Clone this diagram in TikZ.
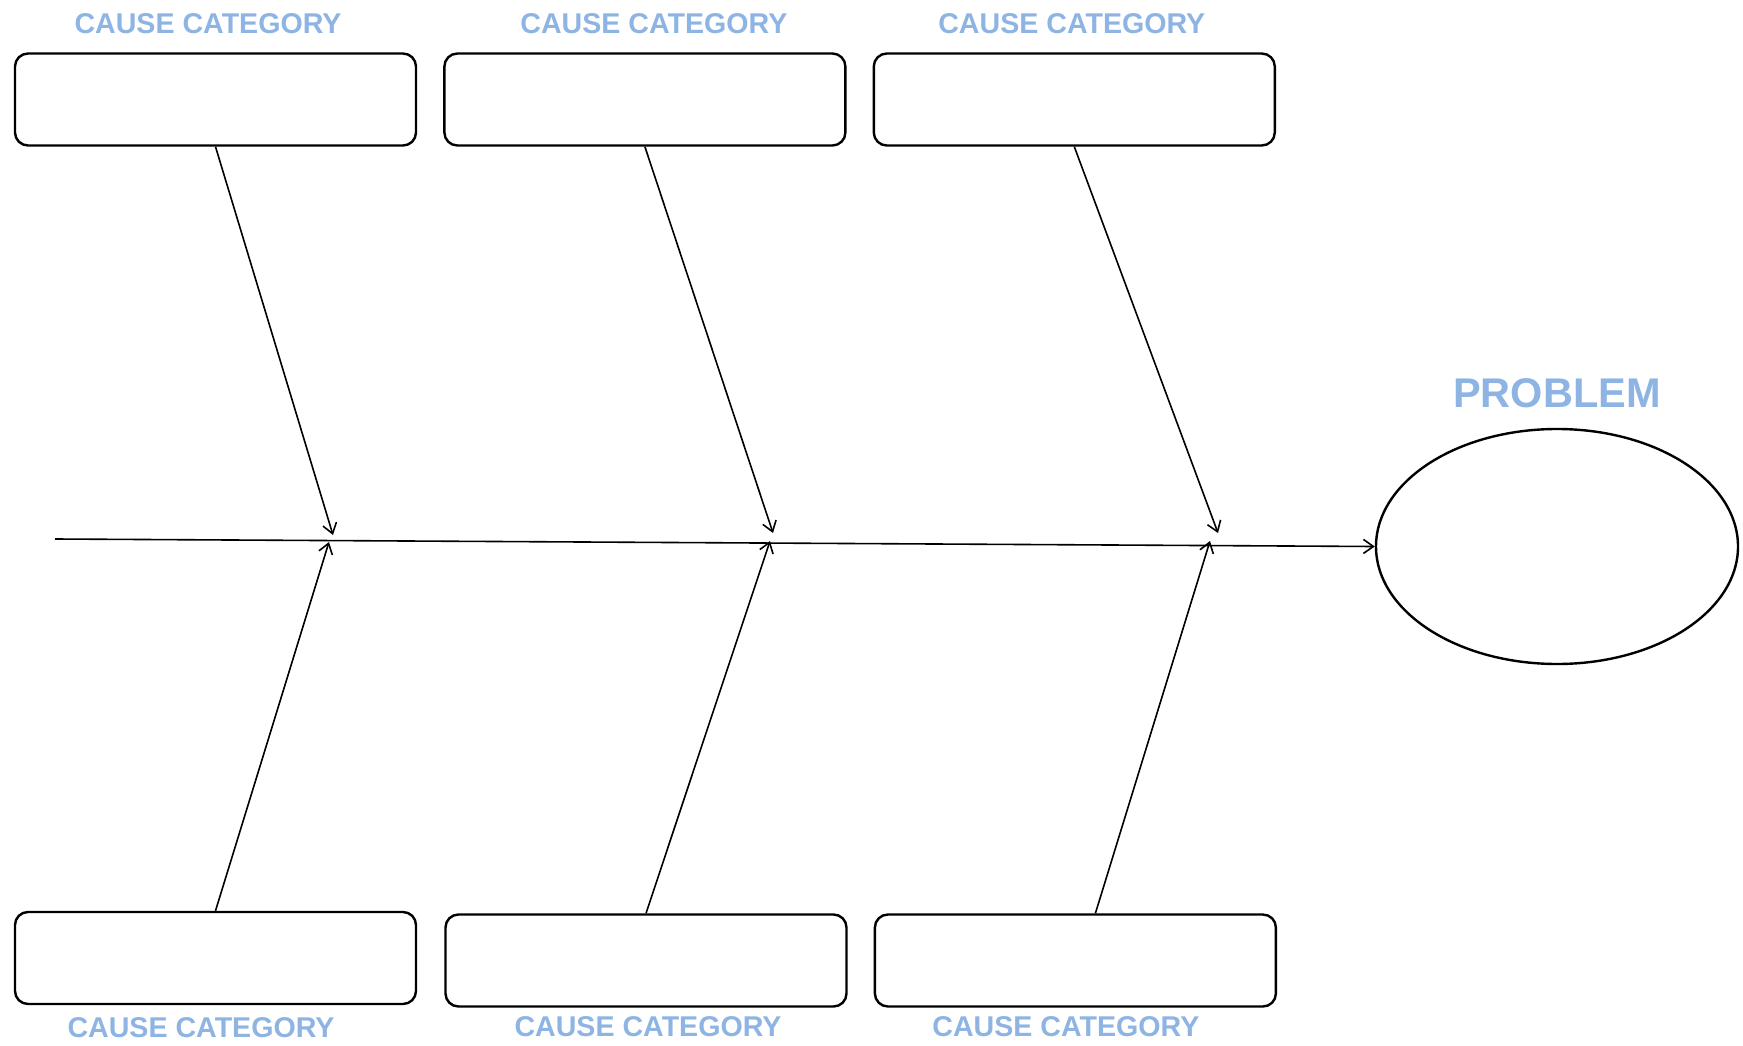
\documentclass[tikz,border=0pt]{standalone}
\usepackage{fontspec}
\setmainfont{Liberation Sans}
\usetikzlibrary{arrows.meta,positioning,shapes.geometric}
\definecolor{catblue}{RGB}{141,180,226}

\begin{document}
\begin{tikzpicture}[
            x=1pt, y=-1pt,
            node distance=26pt,
            cause/.style={draw, rounded corners=13pt, line width=2.4pt, minimum width=401pt, minimum height=92pt, inner sep=0pt},
            cat/.style={text=catblue, font=\fontsize{28.6}{30}\selectfont\bfseries, inner sep=0pt},
            effect/.style={draw, ellipse, line width=2.4pt, minimum width=362pt, minimum height=235pt, inner sep=0pt},
            bone/.style={-{Straight Barb[length=10pt,width=14pt]}, line width=1.6pt}
        ]
            \useasboundingbox (0,0) rectangle (1743,1046);

            % top row of causes
            \node[cause] (top1) at (215.5,99.5) {};
            \node[cause, right=of top1] (top2) {};
            \node[cause, right=of top2] (top3) {};
            \node[cat, above=18pt of top1, xshift=-7.5pt] (lbltop1) {CAUSE CATEGORY};
            \node[cat, above=18pt of top2, xshift=9pt] (lbltop2) {CAUSE CATEGORY};
            \node[cat, above=18pt of top3, xshift=-2.5pt] (lbltop3) {CAUSE CATEGORY};

            % bottom row of causes
            \node[cause] (bot1) at (215.5,958) {};
            \node[cause] (bot2) at (646,960.5) {};
            \node[cause, right=of bot2] (bot3) {};
            \node[cat, below=12pt of bot1, xshift=-14.5pt] (lblbot1) {CAUSE CATEGORY};
            \node[cat, below=9pt of bot2, xshift=2pt] (lblbot2) {CAUSE CATEGORY};
            \node[cat, below=9pt of bot3, xshift=-9.5pt] (lblbot3) {CAUSE CATEGORY};

            % problem
            \node[effect] (problem) at (1557,546.5) {};
            \node[cat, font=\fontsize{41.5}{44}\selectfont\bfseries, above=20pt of problem] (lblproblem) {PROBLEM};

            % spine and bones
            \coordinate (tail) at (55,539);
            \coordinate (tip1) at (333,535);
            \coordinate (tip2) at (773,533);
            \coordinate (tip3) at (1218,533);
            \coordinate (tip4) at (329,542);
            \coordinate (tip5) at (770,541);
            \coordinate (tip6) at (1210,541);

            \draw[bone] (tail) -- (problem.west);
            \draw[bone] (top1.south) -- (tip1);
            \draw[bone] (top2.south) -- (tip2);
            \draw[bone] (top3.south) -- (tip3);
            \draw[bone] (bot1.north) -- (tip4);
            \draw[bone] (bot2.north) -- (tip5);
            \draw[bone] ([xshift=20pt]bot3.north) -- (tip6);
        \end{tikzpicture}
\end{document}
